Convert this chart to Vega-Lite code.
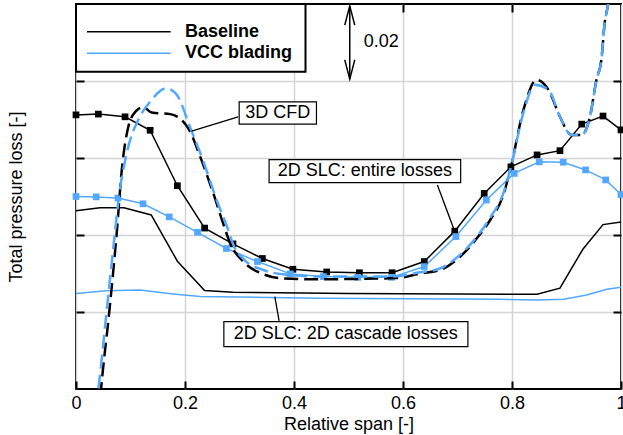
{
"$schema":"https://vega.github.io/schema/vega-lite/v6.json",
"width":545,"height":385,
"autosize":{"type":"none"},
"padding":{"left":76,"top":4,"right":2,"bottom":46},
"config":{"font":"Liberation Sans","view":{"stroke":"#000000","strokeWidth":2},
 "axis":{"domain":false,"tickColor":"#000000","tickWidth":2,"tickSize":-8,"gridColor":"#d4d4d4","gridWidth":1.5,"labelFont":"Liberation Sans","labelFontSize":18,"labelColor":"#000000","labelFlush":false,"titleFont":"Liberation Sans","titleFontSize":18,"titleFontWeight":"normal","titleColor":"#000000"}},
"datasets":{
 "cascade":[
  {"design":"Baseline","span":0,"loss":0.0463},{"design":"Baseline","span":0.044,"loss":0.0471},{"design":"Baseline","span":0.088,"loss":0.0471},{"design":"Baseline","span":0.138,"loss":0.0452},{"design":"Baseline","span":0.186,"loss":0.0332},{"design":"Baseline","span":0.236,"loss":0.0256},{"design":"Baseline","span":0.288,"loss":0.0251},{"design":"Baseline","span":0.5,"loss":0.0248},{"design":"Baseline","span":0.846,"loss":0.0246},{"design":"Baseline","span":0.888,"loss":0.0262},{"design":"Baseline","span":0.93,"loss":0.0363},{"design":"Baseline","span":0.967,"loss":0.0427},{"design":"Baseline","span":1.0,"loss":0.0434},
  {"design":"VCC blading","span":0,"loss":0.0248},{"design":"VCC blading","span":0.056,"loss":0.0255},{"design":"VCC blading","span":0.117,"loss":0.0257},{"design":"VCC blading","span":0.178,"loss":0.0247},{"design":"VCC blading","span":0.228,"loss":0.024},{"design":"VCC blading","span":0.448,"loss":0.0236},{"design":"VCC blading","span":0.778,"loss":0.0233},{"design":"VCC blading","span":0.846,"loss":0.0231},{"design":"VCC blading","span":0.895,"loss":0.0233},{"design":"VCC blading","span":0.937,"loss":0.0244},{"design":"VCC blading","span":0.974,"loss":0.0259},{"design":"VCC blading","span":1.0,"loss":0.0264}
 ],
 "slc":[
  {"design":"Baseline","span":0,"loss":0.0712},{"design":"Baseline","span":0.041,"loss":0.0714},{"design":"Baseline","span":0.09,"loss":0.0707},{"design":"Baseline","span":0.136,"loss":0.0672},{"design":"Baseline","span":0.186,"loss":0.0528},{"design":"Baseline","span":0.236,"loss":0.0418},{"design":"Baseline","span":0.288,"loss":0.0377},{"design":"Baseline","span":0.342,"loss":0.0339},{"design":"Baseline","span":0.398,"loss":0.0311},{"design":"Baseline","span":0.46,"loss":0.0304},{"design":"Baseline","span":0.52,"loss":0.0302},{"design":"Baseline","span":0.58,"loss":0.0302},{"design":"Baseline","span":0.639,"loss":0.0331},{"design":"Baseline","span":0.695,"loss":0.041},{"design":"Baseline","span":0.749,"loss":0.0508},{"design":"Baseline","span":0.798,"loss":0.0577},{"design":"Baseline","span":0.846,"loss":0.0608},{"design":"Baseline","span":0.888,"loss":0.0619},{"design":"Baseline","span":0.928,"loss":0.0688},{"design":"Baseline","span":0.967,"loss":0.0709},{"design":"Baseline","span":1.0,"loss":0.0673},
  {"design":"VCC blading","span":0,"loss":0.05},{"design":"VCC blading","span":0.037,"loss":0.0499},{"design":"VCC blading","span":0.077,"loss":0.0496},{"design":"VCC blading","span":0.123,"loss":0.0481},{"design":"VCC blading","span":0.171,"loss":0.0447},{"design":"VCC blading","span":0.223,"loss":0.0407},{"design":"VCC blading","span":0.276,"loss":0.0365},{"design":"VCC blading","span":0.333,"loss":0.0331},{"design":"VCC blading","span":0.393,"loss":0.0299},{"design":"VCC blading","span":0.454,"loss":0.0292},{"design":"VCC blading","span":0.517,"loss":0.029},{"design":"VCC blading","span":0.579,"loss":0.029},{"design":"VCC blading","span":0.639,"loss":0.0318},{"design":"VCC blading","span":0.697,"loss":0.0396},{"design":"VCC blading","span":0.753,"loss":0.0491},{"design":"VCC blading","span":0.804,"loss":0.056},{"design":"VCC blading","span":0.85,"loss":0.059},{"design":"VCC blading","span":0.894,"loss":0.0589},{"design":"VCC blading","span":0.935,"loss":0.0569},{"design":"VCC blading","span":0.972,"loss":0.0543},{"design":"VCC blading","span":1.0,"loss":0.0505}
 ],
 "cfd":[
  {"design":"Baseline","span":0.043,"loss":-0.005},{"design":"Baseline","span":0.046,"loss":0.0},{"design":"Baseline","span":0.061,"loss":0.02},{"design":"Baseline","span":0.075,"loss":0.041},{"design":"Baseline","span":0.084,"loss":0.0569},{"design":"Baseline","span":0.096,"loss":0.0681},{"design":"Baseline","span":0.11,"loss":0.0722},{"design":"Baseline","span":0.123,"loss":0.0732},{"design":"Baseline","span":0.139,"loss":0.0718},{"design":"Baseline","span":0.173,"loss":0.0714},{"design":"Baseline","span":0.206,"loss":0.0677},{"design":"Baseline","span":0.228,"loss":0.0603},{"design":"Baseline","span":0.252,"loss":0.0508},{"design":"Baseline","span":0.27,"loss":0.043},{"design":"Baseline","span":0.283,"loss":0.0378},{"design":"Baseline","span":0.307,"loss":0.0331},{"design":"Baseline","span":0.344,"loss":0.0298},{"design":"Baseline","span":0.374,"loss":0.0288},{"design":"Baseline","span":0.436,"loss":0.0285},{"design":"Baseline","span":0.588,"loss":0.0288},{"design":"Baseline","span":0.631,"loss":0.03},{"design":"Baseline","span":0.668,"loss":0.0309},{"design":"Baseline","span":0.705,"loss":0.0344},{"design":"Baseline","span":0.738,"loss":0.0396},{"design":"Baseline","span":0.76,"loss":0.0439},{"design":"Baseline","span":0.785,"loss":0.0508},{"design":"Baseline","span":0.798,"loss":0.0577},{"design":"Baseline","span":0.821,"loss":0.0725},{"design":"Baseline","span":0.845,"loss":0.0803},{"design":"Baseline","span":0.867,"loss":0.0777},{"design":"Baseline","span":0.888,"loss":0.0707},{"design":"Baseline","span":0.909,"loss":0.066},{"design":"Baseline","span":0.928,"loss":0.066},{"design":"Baseline","span":0.943,"loss":0.0707},{"design":"Baseline","span":0.955,"loss":0.0803},{"design":"Baseline","span":0.964,"loss":0.0855},{"design":"Baseline","span":0.97,"loss":0.095},{"design":"Baseline","span":0.976,"loss":0.0997},{"design":"Baseline","span":0.985,"loss":0.112},
  {"design":"VCC blading","span":0.036,"loss":-0.005},{"design":"VCC blading","span":0.041,"loss":0.0},{"design":"VCC blading","span":0.056,"loss":0.02},{"design":"VCC blading","span":0.071,"loss":0.04},{"design":"VCC blading","span":0.078,"loss":0.0491},{"design":"VCC blading","span":0.093,"loss":0.0612},{"design":"VCC blading","span":0.117,"loss":0.0707},{"design":"VCC blading","span":0.136,"loss":0.0746},{"design":"VCC blading","span":0.165,"loss":0.0781},{"design":"VCC blading","span":0.185,"loss":0.0764},{"design":"VCC blading","span":0.209,"loss":0.0681},{"design":"VCC blading","span":0.234,"loss":0.059},{"design":"VCC blading","span":0.258,"loss":0.0491},{"design":"VCC blading","span":0.277,"loss":0.0422},{"design":"VCC blading","span":0.29,"loss":0.037},{"design":"VCC blading","span":0.307,"loss":0.0338},{"design":"VCC blading","span":0.344,"loss":0.0309},{"design":"VCC blading","span":0.393,"loss":0.0296},{"design":"VCC blading","span":0.45,"loss":0.0292},{"design":"VCC blading","span":0.58,"loss":0.0292},{"design":"VCC blading","span":0.631,"loss":0.0303},{"design":"VCC blading","span":0.668,"loss":0.0313},{"design":"VCC blading","span":0.705,"loss":0.0349},{"design":"VCC blading","span":0.738,"loss":0.04},{"design":"VCC blading","span":0.76,"loss":0.0445},{"design":"VCC blading","span":0.785,"loss":0.0512},{"design":"VCC blading","span":0.798,"loss":0.0577},{"design":"VCC blading","span":0.821,"loss":0.0718},{"design":"VCC blading","span":0.842,"loss":0.079},{"design":"VCC blading","span":0.867,"loss":0.0777},{"design":"VCC blading","span":0.888,"loss":0.0707},{"design":"VCC blading","span":0.909,"loss":0.066},{"design":"VCC blading","span":0.928,"loss":0.066},{"design":"VCC blading","span":0.943,"loss":0.0707},{"design":"VCC blading","span":0.955,"loss":0.0803},{"design":"VCC blading","span":0.964,"loss":0.0855},{"design":"VCC blading","span":0.97,"loss":0.095},{"design":"VCC blading","span":0.976,"loss":0.0997},{"design":"VCC blading","span":0.985,"loss":0.112}
 ],
 "leaders":[
  {"x":0.2975,"y":0.0707,"x2":0.2121,"y2":0.067},
  {"x":0.6631,"y":0.053,"x2":0.6948,"y2":0.041},
  {"x":0.3727,"y":0.0177,"x2":0.3648,"y2":0.024}
 ],
 "boxes":[
  {"x":0.2994,"x2":0.4412,"y":0.0688,"y2":0.0746},
  {"x":0.3543,"x2":0.7058,"y":0.0536,"y2":0.0596},
  {"x":0.2713,"x2":0.7191,"y":0.011,"y2":0.0175}
 ],
 "notes":[
  {"label":"3D CFD","x":0.370,"y":0.0717},
  {"label":"2D SLC: entire losses","x":0.530,"y":0.0566},
  {"label":"2D SLC: 2D cascade losses","x":0.495,"y":0.0142}
 ],
 "arrow":[
  {"part":"shaft","o":1,"x":0.5023,"y":0.0805},{"part":"shaft","o":2,"x":0.5023,"y":0.0995},
  {"part":"top","o":1,"x":0.4931,"y":0.0945},{"part":"top","o":2,"x":0.5023,"y":0.0995},{"part":"top","o":3,"x":0.5115,"y":0.0945},
  {"part":"bottom","o":1,"x":0.4931,"y":0.0855},{"part":"bottom","o":2,"x":0.5023,"y":0.0805},{"part":"bottom","o":3,"x":0.5115,"y":0.0855}
 ],
 "legendbox":[{"x":0,"x2":0.4211,"y":0.0824,"y2":0.1}],
 "legendlines":[
  {"design":"Baseline","x":0.0202,"x2":0.1736,"y":0.0928},
  {"design":"VCC blading","x":0.0202,"x2":0.1736,"y":0.0872}
 ],
 "legendtext":[
  {"label":"Baseline","x":0.1998,"y":0.0928},
  {"label":"VCC blading","x":0.1998,"y":0.0872}
 ]
},
"layer":[
 {"data":{"name":"cascade"},"mark":{"type":"line","strokeWidth":1.5},
  "encoding":{
   "x":{"field":"span","type":"quantitative","scale":{"domain":[0,1],"nice":false},"axis":{"orient":"bottom","values":[0,0.2,0.4,0.6,0.8,1],"format":"~g","grid":true,"labelPadding":13,"title":"Relative span [-]","titlePadding":3}},
   "y":{"field":"loss","type":"quantitative","scale":{"domain":[0,0.1],"nice":false,"zero":false},"axis":{"orient":"left","values":[0.02,0.04,0.06,0.08],"grid":true,"labels":false,"title":"Total pressure loss [-]","titlePadding":50}},
   "color":{"field":"design","type":"nominal","scale":{"domain":["Baseline","VCC blading"],"range":["#000000","#52a8ff"]},"legend":null}}},
 {"data":{"name":"slc"},"mark":{"type":"line","strokeWidth":1.5,"point":{"filled":true,"shape":"square","size":45}},
  "encoding":{
   "x":{"field":"span","type":"quantitative","axis":{"orient":"top","values":[0.2,0.4,0.6,0.8],"grid":false,"labels":false,"title":null}},
   "y":{"field":"loss","type":"quantitative","axis":{"orient":"right","values":[0.02,0.04,0.06,0.08],"grid":false,"labels":false,"title":null}},
   "color":{"field":"design","type":"nominal","legend":null}}},
 {"data":{"name":"cfd"},"transform":[{"filter":"datum.design === 'Baseline'"}],"mark":{"type":"line","strokeWidth":2.5,"strokeDash":[14,6],"strokeDashOffset":8,"interpolate":"monotone","clip":true},
  "encoding":{
   "x":{"field":"span","type":"quantitative","axis":null},
   "y":{"field":"loss","type":"quantitative","axis":null},
   "color":{"field":"design","type":"nominal","legend":null}}},
 {"data":{"name":"cfd"},"transform":[{"filter":"datum.design === 'VCC blading'"}],"mark":{"type":"line","strokeWidth":2.5,"strokeDash":[14,6],"interpolate":"monotone","clip":true},
  "encoding":{
   "x":{"field":"span","type":"quantitative","axis":null},
   "y":{"field":"loss","type":"quantitative","axis":null},
   "color":{"field":"design","type":"nominal","legend":null}}},
 {"data":{"name":"leaders"},"mark":{"type":"rule","color":"#000000","strokeWidth":1.3},
  "encoding":{"x":{"field":"x","type":"quantitative","axis":null},"y":{"field":"y","type":"quantitative","axis":null},"x2":{"field":"x2"},"y2":{"field":"y2"}}},
 {"data":{"name":"boxes"},"mark":{"type":"rect","fill":"#ffffff","stroke":"#000000","strokeWidth":1.2},
  "encoding":{"x":{"field":"x","type":"quantitative","axis":null},"y":{"field":"y","type":"quantitative","axis":null},"x2":{"field":"x2"},"y2":{"field":"y2"}}},
 {"data":{"name":"notes"},"mark":{"type":"text","fontSize":18,"color":"#000000","align":"center","baseline":"middle","font":"Liberation Sans"},
  "encoding":{"x":{"field":"x","type":"quantitative","axis":null},"y":{"field":"y","type":"quantitative","axis":null},"text":{"field":"label"}}},
 {"data":{"name":"arrow"},"mark":{"type":"line","color":"#000000","strokeWidth":1.5},
  "encoding":{"x":{"field":"x","type":"quantitative","axis":null},"y":{"field":"y","type":"quantitative","axis":null},"detail":{"field":"part"},"order":{"field":"o","type":"quantitative"}}},
 {"data":{"values":[{"label":"0.02","x":0.528,"y":0.0902}]},"mark":{"type":"text","fontSize":18,"color":"#000000","align":"left","baseline":"middle","font":"Liberation Sans"},
  "encoding":{"x":{"field":"x","type":"quantitative","axis":null},"y":{"field":"y","type":"quantitative","axis":null},"text":{"field":"label"}}},
 {"data":{"name":"legendbox"},"mark":{"type":"rect","fill":"#ffffff","stroke":"#000000","strokeWidth":2},
  "encoding":{"x":{"field":"x","type":"quantitative","axis":null},"y":{"field":"y","type":"quantitative","axis":null},"x2":{"field":"x2"},"y2":{"field":"y2"}}},
 {"data":{"name":"legendlines"},"mark":{"type":"rule","strokeWidth":1.5},
  "encoding":{"x":{"field":"x","type":"quantitative","axis":null},"y":{"field":"y","type":"quantitative","axis":null},"x2":{"field":"x2"},"color":{"field":"design","type":"nominal","legend":null}}},
 {"data":{"name":"legendtext"},"mark":{"type":"text","fontSize":18,"fontWeight":"bold","color":"#000000","align":"left","baseline":"middle","font":"Liberation Sans"},
  "encoding":{"x":{"field":"x","type":"quantitative","axis":null},"y":{"field":"y","type":"quantitative","axis":null},"text":{"field":"label"}}}
]
}
